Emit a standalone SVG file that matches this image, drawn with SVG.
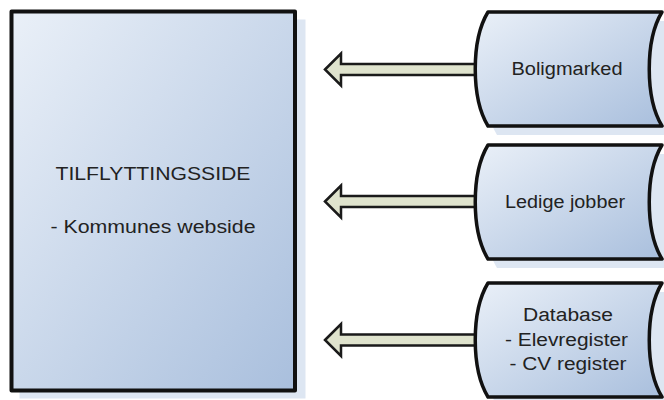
<svg xmlns="http://www.w3.org/2000/svg" width="664" height="400" viewBox="0 0 664 400">
  <defs>
    <linearGradient id="g" x1="0" y1="0" x2="1" y2="1">
      <stop offset="0" stop-color="#eaf0f8"/>
      <stop offset="1" stop-color="#a9bfdd"/>
    </linearGradient>
    <style>
      .shadow { fill: #dde6f2; }
      .box { fill: url(#g); stroke: #111; stroke-width: 4; stroke-linejoin: round; }
      .store { fill: url(#g); stroke: #111; stroke-width: 3.5; stroke-linejoin: round; }
      .arrow { fill: #dfe3cd; stroke: #1a1a1a; stroke-width: 2.5; stroke-linejoin: miter; }
      .t { font-family: "Liberation Sans", Arial, sans-serif; font-size: 18px; fill: #222; text-anchor: middle; }
    </style>
  </defs>
  <rect width="664" height="400" fill="#ffffff"/>

  <g id="connectors">
    <path class="arrow" d="M325,69.5 L341,53.5 L341,64 L480,64 L480,75 L341,75 L341,85.5 Z"/>
    <path class="arrow" d="M325,201.5 L341,185.5 L341,196 L480,196 L480,207 L341,207 L341,217.5 Z"/>
    <path class="arrow" d="M325,340 L341,324 L341,334.5 L480,334.5 L480,345.5 L341,345.5 L341,356 Z"/>
  </g>

  <g id="tilflyttingsside">
    <rect class="shadow" x="19.5" y="19.5" width="286" height="379"/>
    <rect class="box" x="11.5" y="11.5" width="283.5" height="379"/>
    <text class="t" x="153" y="180" textLength="195" lengthAdjust="spacingAndGlyphs">TILFLYTTINGSSIDE</text>
    <text class="t" x="153" y="233" textLength="205" lengthAdjust="spacingAndGlyphs">- Kommunes webside</text>
  </g>

  <g id="boligmarked">
    <path class="shadow" d="M497,21 L680,21 L680,135 L497,135 C480,107 480,49 497,21 Z"/>
    <path class="store" d="M488,12 L662,12 C645,40 645,98 662,126 L488,126 C471,98 471,40 488,12 Z"/>
    <text class="t" x="567" y="75" textLength="111" lengthAdjust="spacingAndGlyphs">Boligmarked</text>
  </g>

  <g id="ledige-jobber">
    <path class="shadow" d="M497,154 L680,154 L680,268 L497,268 C480,240 480,182 497,154 Z"/>
    <path class="store" d="M488,145 L662,145 C645,173 645,231 662,259 L488,259 C471,231 471,173 488,145 Z"/>
    <text class="t" x="565" y="208" textLength="120" lengthAdjust="spacingAndGlyphs">Ledige jobber</text>
  </g>

  <g id="database">
    <path class="shadow" d="M497,292 L680,292 L680,406 L497,406 C480,378 480,320 497,292 Z"/>
    <path class="store" d="M488,283 L662,283 C645,311 645,369 662,397 L488,397 C471,369 471,311 488,283 Z"/>
    <text class="t" x="568" y="321" textLength="90" lengthAdjust="spacingAndGlyphs">Database</text>
    <text class="t" x="566.5" y="345.5" textLength="123" lengthAdjust="spacingAndGlyphs">- Elevregister</text>
    <text class="t" x="568" y="370" textLength="117" lengthAdjust="spacingAndGlyphs">- CV register</text>
  </g>
</svg>
